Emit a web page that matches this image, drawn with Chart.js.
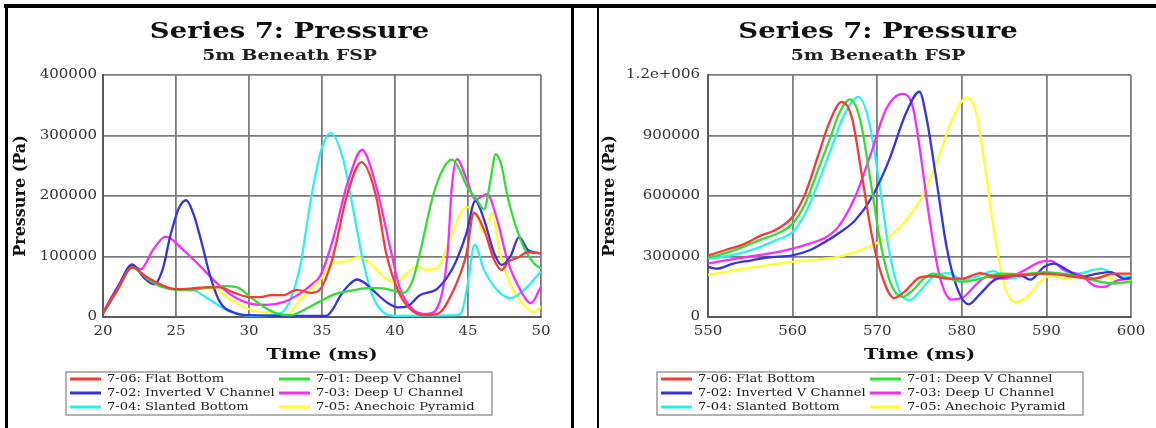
<!DOCTYPE html>
<html>
<head>
<meta charset="utf-8">
<script src="https://cdn.jsdelivr.net/npm/chart.js@4.4.1/dist/chart.umd.min.js"></script>
<style>
  body { margin: 0; background: #fff; width: 1156px; height: 428px; overflow: hidden; position: relative; }
  .rule { position: absolute; background: #000; }
  canvas { position: absolute; top: 8px; }
</style>
</head>
<body>
<div class="rule" style="left:4px;top:4px;width:1152px;height:4px"></div>
<div class="rule" style="left:5px;top:4px;width:3px;height:424px"></div>
<div class="rule" style="left:571px;top:4px;width:3px;height:424px"></div>
<div class="rule" style="left:597px;top:4px;width:2px;height:424px"></div>
<canvas id="chartEarly" width="563" height="420" style="left:8px"></canvas>
<canvas id="chartLate" width="558" height="420" style="left:599px"></canvas>
<script>
// Pressure traces, 5 m beneath the FSP, [time ms, pressure Pa]
const seriesNames = ['7-06: Flat Bottom', '7-01: Deep V Channel', '7-02: Inverted V Channel',
                     '7-03: Deep U Channel', '7-04: Slanted Bottom', '7-05: Anechoic Pyramid'];
const seriesColors = ['#f53a3a', '#33dd33', '#3434e0', '#f52ef5', '#2ef0f0', '#ffff2e'];

// first arrival window, 20-50 ms
const flatEarly = [[20, 6000], [21, 45000], [22, 82000], [23, 66000], [24, 53000], [25, 46000], [26, 47000],
  [27, 49000], [28, 49000], [29, 40000], [30, 33000], [30.8, 33000], [31.5, 36000], [32.3, 36000], [33.3, 45000],
  [34.2, 40000], [34.8, 44000], [35.7, 95000], [36.7, 200000], [37.7, 256000], [38.7, 200000], [39.4, 105000],
  [40.3, 39000], [41.2, 10000], [42, 3000], [42.9, 5000], [44, 44000], [44.9, 105000], [45.4, 172000],
  [46.1, 144000], [46.8, 94000], [47.3, 78000], [47.8, 92000], [48.4, 98000], [49.1, 107000], [50, 105000]];
const deepVEarly = [[20, 6000], [21, 45000], [22, 82000], [23, 64000], [24, 50000], [25, 45000], [26, 45000],
  [27, 48000], [28.5, 51000], [29.3, 48000], [30.1, 33000], [31, 17000], [31.9, 6000], [32.8, 3000], [33.8, 12000],
  [34.8, 25000], [35.8, 37000], [37.1, 44000], [38.3, 48000], [39.3, 47000], [40.6, 40000], [41.2, 60000],
  [41.7, 105000], [42.6, 200000], [43.3, 245000], [43.9, 260000], [44.4, 245000], [44.9, 217000], [45.6, 194000],
  [46.1, 178000], [46.5, 220000], [46.9, 269000], [47.3, 250000], [47.7, 200000], [48.6, 128000], [49.5, 89000],
  [50, 80000]];
const invertedVEarly = [[20, 6000], [21, 48000], [22, 87000], [22.8, 65000], [23.5, 54000], [24.1, 80000],
  [24.6, 133000], [25.2, 180000], [25.7, 193000], [26.2, 170000], [26.7, 128000], [27.35, 67000], [28, 25000],
  [29, 7000], [30, 3000], [33, 2000], [35.3, 2000], [35.8, 15000], [36.2, 33000], [36.8, 52000], [37.4, 62000],
  [38, 55000], [38.5, 44000], [39.4, 25000], [40.2, 16000], [40.8, 17000], [41.7, 36000], [42.9, 47000],
  [44, 83000], [44.9, 139000], [45.5, 192000], [46.1, 161000], [46.8, 105000], [47.3, 86000], [47.9, 100000],
  [48.5, 132000], [49.1, 111000], [50, 105000]];
const deepUEarly = [[20, 8000], [21, 50000], [22, 84000], [22.6, 79000], [23.4, 110000], [24.3, 133000],
  [25.5, 111000], [26.7, 83000], [27.8, 56000], [29, 33000], [30.1, 22000], [31.2, 20000], [32.4, 25000],
  [33.5, 39000], [34.4, 56000], [34.85, 67000], [35.75, 128000], [36.7, 217000], [37.75, 276000], [38.7, 217000],
  [39.7, 111000], [40.3, 50000], [41.3, 11000], [42.2, 5000], [43.1, 28000], [43.6, 105000], [43.9, 217000],
  [44.25, 261000], [44.9, 228000], [45.5, 194000], [46.3, 203000], [47, 161000], [47.7, 94000], [48.6, 44000],
  [49.3, 23000], [50, 50000]];
const slantedEarly = [[20, 6000], [21, 45000], [22, 82000], [23, 64000], [24, 52000], [25, 46000], [26.2, 44000],
  [27.35, 28000], [28.5, 11000], [29.4, 4000], [30.5, 2000], [31.7, 4000], [32.6, 17000], [33.5, 83000],
  [34.2, 189000], [34.9, 272000], [35.6, 304000], [36.45, 261000], [37.1, 183000], [37.8, 94000], [38.5, 33000],
  [39.2, 8000], [40, 2000], [44.3, 3000], [44.6, 10000], [44.95, 50000], [45.46, 119000], [46.1, 78000],
  [46.8, 50000], [47.9, 31000], [48.8, 44000], [50, 75000]];
const anechoicEarly = [[20, 6000], [21, 45000], [22, 82000], [23, 64000], [24, 52000], [25, 46000], [26.5, 46000],
  [27.4, 46000], [28.2, 38000], [29, 25000], [30.1, 12000], [31.2, 7000], [32.6, 4000], [33.5, 28000],
  [34.4, 50000], [34.85, 61000], [35.75, 89000], [36.7, 92000], [37.5, 99000], [38.3, 89000], [39.2, 67000],
  [40, 56000], [40.8, 72000], [41.5, 83000], [42.2, 78000], [42.9, 81000], [43.6, 117000], [44.4, 167000],
  [44.9, 182000], [45.6, 167000], [46.1, 139000], [46.65, 172000], [47.2, 105000], [48.1, 44000], [49.1, 14000],
  [49.5, 8000], [50, 17000]];

// main pulse window, 550-600 ms
const flatLate = [[550, 305000], [552, 331000], [554.4, 364000], [556.3, 405000], [557.9, 430000], [560, 497000],
  [561.5, 612000], [563.1, 811000], [564.3, 960000], [565.8, 1067000], [567, 990000], [568.2, 700000],
  [569.4, 397000], [570.6, 199000], [572, 94000], [573.4, 132000], [575, 195000], [576.6, 202000],
  [578.2, 190000], [580, 190000], [582.2, 218000], [583.8, 202000], [586.9, 207000], [590, 215000],
  [592.9, 202000], [595.6, 190000], [598, 215000], [600, 215000]];
const deepVLate = [[550, 295000], [552, 315000], [554, 345000], [556, 380000], [558, 410000], [560, 463000],
  [561.5, 563000], [563, 728000], [564.5, 894000], [565.5, 1010000], [566.8, 1079000], [568, 976000],
  [569.2, 679000], [570.4, 364000], [571.6, 166000], [573, 99000], [574.2, 132000], [575.3, 182000],
  [576.6, 215000], [578.6, 190000], [580, 174000], [582.2, 190000], [584.6, 215000], [586.9, 212000],
  [590, 223000], [592.9, 207000], [595.6, 182000], [598, 166000], [600, 175000]];
const invertedVLate = [[550, 248000], [551, 240000], [553, 265000], [555, 280000], [557, 295000], [560, 306000],
  [562, 331000], [563.5, 364000], [565.4, 414000], [567.4, 480000], [569.4, 596000], [571.4, 778000],
  [573.4, 1010000], [575, 1117000], [575.8, 993000], [577, 679000], [578.2, 348000], [579.4, 149000],
  [580.8, 63000], [582.2, 116000], [583.8, 182000], [585.3, 202000], [586.9, 207000], [588.1, 185000],
  [589.7, 248000], [590.9, 265000], [592.5, 232000], [594.1, 199000], [596, 215000], [597.6, 223000],
  [599.2, 190000], [600, 195000]];
const deepULate = [[550, 265000], [552, 280000], [555, 300000], [558, 320000], [560, 339000], [562, 364000],
  [564, 397000], [565.4, 447000], [567.4, 596000], [569.4, 828000], [571, 1026000], [573, 1106000],
  [574.2, 1043000], [575, 844000], [576.2, 480000], [577.4, 199000], [578.8, 86000], [580.2, 99000],
  [581.8, 166000], [583, 199000], [585, 190000], [587, 223000], [589.3, 273000], [590.5, 278000],
  [592.1, 232000], [594.1, 207000], [595.6, 157000], [596.8, 149000], [598.4, 182000], [600, 190000]];
const slantedLate = [[550, 290000], [552, 300000], [555, 330000], [558, 380000], [560, 422000], [561.5, 513000],
  [563, 662000], [564.5, 828000], [566, 993000], [567.8, 1092000], [569, 976000], [570.2, 679000],
  [571.4, 331000], [572.6, 132000], [573.8, 83000], [575, 125000], [576.6, 199000], [578.6, 218000],
  [580, 182000], [582.2, 207000], [583.8, 227000], [585.3, 190000], [587.5, 205000], [590, 215000],
  [593.7, 215000], [596.4, 240000], [598.4, 207000], [600, 199000]];
const anechoicLate = [[550, 210000], [553, 230000], [556, 250000], [560, 273000], [563, 285000], [565.4, 298000],
  [567.4, 323000], [569.4, 356000], [571.4, 397000], [573.4, 480000], [575.3, 596000], [576.2, 679000],
  [577.4, 811000], [579, 993000], [580.6, 1089000], [581.8, 993000], [582.8, 728000], [583.8, 430000],
  [585, 166000], [586.3, 74000], [587.7, 99000], [589.3, 174000], [590.5, 207000], [592.1, 190000],
  [594.1, 207000], [595.6, 232000], [597.2, 199000], [598.8, 174000], [600, 180000]];

const xTicksEarly = ['20', '25', '30', '35', '40', '45', '50'];
const yTicksEarly = ['0', '100000', '200000', '300000', '400000'];
const xTicksLate = ['550', '560', '570', '580', '590', '600'];
const yTicksLate = ['0', '300000', '600000', '900000', '1.2e+006'];

const FONT = '"DejaVu Serif", "Liberation Serif", serif';
const TEXT_STRETCH = 1.25;

// the old plotting tool used a very wide serif; stretch horizontal text about its anchor
const wideText = {
  id: 'wideText',
  beforeInit(chart) {
    const ctx = chart.ctx;
    const fill = ctx.fillText.bind(ctx);
    ctx.fillText = (text, x, y) => {
      const m = ctx.getTransform();
      if (Math.abs(m.b) > 1e-6) { fill(text, x, y); return; }
      ctx.save();
      ctx.translate(x, y);
      ctx.scale(TEXT_STRETCH, 1);
      fill(text, 0, 0);
      ctx.restore();
    };
  },
  afterLayout(chart) {
    // title and subtitle centred over the whole panel, not the padded area
    chart.boxes.forEach(b => {
      if (!b.axis && b.position === 'top') { b.left = 0; b.right = chart.width; }
    });
  }
};

// boxed two-column legend under the axis
const legendBox = {
  id: 'legendBox',
  afterDraw(chart) {
    const ctx = chart.ctx;
    const left = 58, top = 364, w = 426, h = 43;
    ctx.save();
    ctx.strokeStyle = '#9a9a9a';
    ctx.lineWidth = 1.5;
    ctx.strokeRect(left, top, w, h);
    ctx.font = '10.5px ' + FONT;
    ctx.fillStyle = '#222';
    ctx.textBaseline = 'middle';
    ctx.textAlign = 'left';
    chart.data.datasets.forEach((ds, i) => {
      const x = left + (i % 2 ? 213 : 4);
      const y = top + 7 + Math.floor(i / 2) * 14;
      ctx.strokeStyle = ds.borderColor;
      ctx.lineWidth = 3;
      ctx.beginPath();
      ctx.moveTo(x, y);
      ctx.lineTo(x + 31, y);
      ctx.stroke();
      ctx.fillText(ds.label, x + 37, y);
    });
    ctx.restore();
  }
};

function makeDatasets(groups) {
  return groups.map((pts, i) => ({
    label: seriesNames[i],
    data: pts.map(([t, p]) => ({ x: t, y: p })),
    borderColor: seriesColors[i],
    backgroundColor: seriesColors[i],
    borderWidth: 2.3,
    pointRadius: 0,
    cubicInterpolationMode: 'monotone',
    fill: false
  }));
}

function makeOptions(cfg) {
  const grid = { color: '#7c7c7c', lineWidth: 1.8, drawTicks: false };
  const border = { color: '#5a5a5a', width: 2 };
  return {
    responsive: false,
    animation: false,
    layout: { padding: { top: 0, left: 0, right: cfg.padRight, bottom: 56 } },
    plugins: {
      legend: { display: false },
      tooltip: { enabled: false },
      title: {
        display: true, text: 'Series 7: Pressure', color: '#111',
        font: { family: FONT, size: 22, weight: 'bold', lineHeight: 1.2 },
        padding: { top: 11, bottom: 0 }
      },
      subtitle: {
        display: true, text: '5m Beneath FSP', color: '#222',
        font: { family: FONT, size: 15, weight: 'bold', lineHeight: 1.2 },
        padding: { top: 1.6, bottom: 10 }
      }
    },
    scales: {
      x: {
        type: 'linear', min: cfg.xMin, max: cfg.xMax,
        grid, border,
        ticks: {
          stepSize: cfg.xStep, autoSkip: false, maxRotation: 0, padding: 8, color: '#333',
          font: { family: FONT, size: 12 },
          callback: (v, i) => cfg.xLabels[i]
        },
        title: {
          display: true, text: 'Time (ms)', color: '#111',
          font: { family: FONT, size: 15.5, weight: 'bold', lineHeight: 1.2 },
          padding: { top: 0, bottom: 8 }
        },
        afterFit: s => { s.height = 55; }
      },
      y: {
        type: 'linear', min: 0, max: cfg.yMax,
        grid, border,
        ticks: {
          stepSize: cfg.yStep, padding: cfg.tickGap, color: '#333',
          font: { family: FONT, size: 12 },
          callback: (v, i) => cfg.yLabels[i]
        },
        title: {
          display: true, text: 'Pressure (Pa)', color: '#111',
          font: { family: FONT, size: 16, weight: 'bold', lineHeight: 1.2 },
          padding: { top: cfg.yTitlePad, bottom: 0 }
        },
        afterFit: s => { s.width = cfg.yAxisWidth; }
      }
    }
  };
}

new Chart(document.getElementById('chartEarly'), {
  type: 'line',
  data: { datasets: makeDatasets([flatEarly, deepVEarly, invertedVEarly, deepUEarly, slantedEarly, anechoicEarly]) },
  options: makeOptions({
    xMin: 20, xMax: 50, xStep: 5, xLabels: xTicksEarly,
    yMax: 400000, yStep: 100000, yLabels: yTicksEarly,
    yAxisWidth: 95, padRight: 30, yTitlePad: 3.4, tickGap: 6
  }),
  plugins: [wideText, legendBox]
});

new Chart(document.getElementById('chartLate'), {
  type: 'line',
  data: { datasets: makeDatasets([flatLate, deepVLate, invertedVLate, deepULate, slantedLate, anechoicLate]) },
  options: makeOptions({
    xMin: 550, xMax: 600, xStep: 10, xLabels: xTicksLate,
    yMax: 1200000, yStep: 300000, yLabels: yTicksLate,
    yAxisWidth: 109, padRight: 26, yTitlePad: 1.4, tickGap: 8
  }),
  plugins: [wideText, legendBox]
});
</script>
</body>
</html>
